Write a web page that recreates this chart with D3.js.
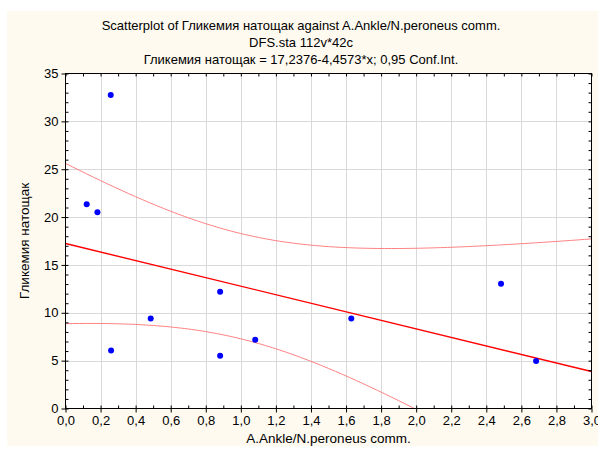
<!DOCTYPE html>
<html>
<head>
<meta charset="utf-8">
<script src="https://cdn.jsdelivr.net/npm/d3@7"></script>
<style>
  body { margin: 0; background: #fff; }
  text { font-family: "Liberation Sans", Arial, sans-serif; fill: #000; }
</style>
</head>
<body>
<svg width="598" height="450"></svg>
<script>
var svg = d3.select("svg"),
    width = +svg.attr("width"),
    height = +svg.attr("height");

// data
var ankle = [0.121, 0.182, 0.258, 0.26, 0.486, 0.882, 0.882, 1.082, 1.63, 2.484, 2.684];
var glucose = [21.35, 20.51, 32.76, 6.07, 9.41, 12.19, 5.51, 7.18, 9.41, 13.03, 4.96];
var intercept = 17.2376, slope = -4.4573, tCrit = 2.262;
var xTicks = [0, 0.2, 0.4, 0.6, 0.8, 1.0, 1.2, 1.4, 1.6, 1.8, 2.0, 2.2, 2.4, 2.6, 2.8, 3.0];
var yTicks = [0, 5, 10, 15, 20, 25, 30, 35];
var titleLines = [
  "Scatterplot of Гликемия натощак against A.Ankle/N.peroneus comm.",
  "DFS.sta 112v*42c",
  "Гликемия натощак = 17,2376-4,4573*x; 0,95 Conf.Int."
];

var margin = {left: 65.5, right: 598 - 591.5, top: 73.5, bottom: 450 - 408.5};
var x = d3.scaleLinear().domain([0, 3]).range([margin.left, width - margin.right]);
var y = d3.scaleLinear().domain([0, 35]).range([height - margin.bottom, margin.top]);
var comma = function(d) { return d3.format(".1f")(d).replace(".", ","); };

// background panel
svg.append("rect").attr("x", 7).attr("y", 11).attr("width", width - 7).attr("height", 435)
    .attr("fill", "#fefaf0");
svg.append("rect").attr("x", x(0)).attr("y", y(35))
    .attr("width", x(3) - x(0)).attr("height", y(0) - y(35)).attr("fill", "#fff");

// grid
svg.append("g").selectAll("line").data(xTicks.slice(1, -1)).enter().append("line")
    .attr("x1", function(d) { return Math.round(x(d)) + 0.5; })
    .attr("x2", function(d) { return Math.round(x(d)) + 0.5; })
    .attr("y1", y(0)).attr("y2", y(35))
    .attr("stroke", "#d9d9d9");
svg.append("g").selectAll("line").data(yTicks.slice(1, -1)).enter().append("line")
    .attr("y1", function(d) { return Math.round(y(d)) + 0.5; })
    .attr("y2", function(d) { return Math.round(y(d)) + 0.5; })
    .attr("x1", x(0)).attr("x2", x(3))
    .attr("stroke", "#d9d9d9");

// regression line and 95% band, computed from the points
var n = ankle.length,
    mx = d3.mean(ankle),
    sxx = d3.sum(ankle, function(v) { return (v - mx) * (v - mx); }),
    sse = d3.sum(ankle, function(v, i) { var r = glucose[i] - (intercept + slope * v); return r * r; }),
    s = Math.sqrt(sse / (n - 2));
var grid = d3.range(0, 3.0001, 0.02);
function half(v) { return tCrit * s * Math.sqrt(1 / n + (v - mx) * (v - mx) / sxx); }

var clip = svg.append("clipPath").attr("id", "plot").append("rect")
    .attr("x", x(0)).attr("y", y(35)).attr("width", x(3) - x(0)).attr("height", y(0) - y(35));
var plot = svg.append("g").attr("clip-path", "url(#plot)");

var upper = d3.line().x(function(v) { return x(v); }).y(function(v) { return y(intercept + slope * v + half(v)); });
var lower = d3.line().x(function(v) { return x(v); }).y(function(v) { return y(intercept + slope * v - half(v)); });
var fit = d3.line().x(function(v) { return x(v); }).y(function(v) { return y(intercept + slope * v); });

plot.append("path").datum(grid).attr("d", upper).attr("fill", "none").attr("stroke", "#ff8080").attr("stroke-width", 1);
plot.append("path").datum(grid.filter(function(v) { return intercept + slope * v - half(v) >= -0.5; }))
    .attr("d", lower).attr("fill", "none").attr("stroke", "#ff8080").attr("stroke-width", 1);
plot.append("path").datum([0, 3]).attr("d", fit).attr("fill", "none").attr("stroke", "#ff0000").attr("stroke-width", 1.4);

svg.append("g").selectAll("circle").data(ankle).enter().append("circle")
    .attr("cx", function(d) { return x(d); })
    .attr("cy", function(d, i) { return y(glucose[i]); })
    .attr("r", 3)
    .attr("fill", "#0000ff");

// axes: majors outward on left/bottom, minors inward, mirrored on top/right
var xMinor = d3.range(0, 3.0001, 0.1), yMinor = d3.range(0, 35.0001, 1);
svg.append("g").attr("transform", "translate(0," + y(0) + ")")
    .call(d3.axisBottom(x).tickValues(xTicks).tickFormat(comma).tickSize(4).tickPadding(3))
    .call(function(g) { g.select(".domain").remove(); });
svg.append("g").attr("transform", "translate(0," + y(0) + ")")
    .call(d3.axisTop(x).tickValues(xMinor).tickFormat("").tickSize(3))
    .call(function(g) { g.select(".domain").remove(); });
svg.append("g").attr("transform", "translate(0," + y(35) + ")")
    .call(d3.axisBottom(x).tickValues(xMinor).tickFormat("").tickSize(3))
    .call(function(g) { g.select(".domain").remove(); });
svg.append("g").attr("transform", "translate(" + x(0) + ",0)")
    .call(d3.axisLeft(y).tickValues(yTicks).tickSize(4).tickPadding(3))
    .call(function(g) { g.select(".domain").remove(); });
svg.append("g").attr("transform", "translate(" + x(0) + ",0)")
    .call(d3.axisRight(y).tickValues(yMinor).tickFormat("").tickSize(3))
    .call(function(g) { g.select(".domain").remove(); });
svg.append("g").attr("transform", "translate(" + x(3) + ",0)")
    .call(d3.axisLeft(y).tickValues(yMinor).tickFormat("").tickSize(3))
    .call(function(g) { g.select(".domain").remove(); });
svg.selectAll(".tick text").attr("font-size", 13).attr("font-family", "Liberation Sans, Arial, sans-serif");

svg.append("rect").attr("x", x(0)).attr("y", y(35))
    .attr("width", x(3) - x(0)).attr("height", y(0) - y(35))
    .attr("fill", "none").attr("stroke", "#000");

// titles
svg.append("g").selectAll("text").data(titleLines).enter().append("text")
    .attr("x", 301).attr("y", function(d, i) { return 30 + i * 17; })
    .attr("text-anchor", "middle").attr("font-size", 13)
    .text(function(d) { return d; });
svg.append("text").attr("x", (x(0) + x(3)) / 2).attr("y", 442.5)
    .attr("text-anchor", "middle").attr("font-size", 13.5)
    .text("A.Ankle/N.peroneus comm.");
svg.append("text").attr("transform", "translate(29," + (y(0) + y(35)) / 2 + ") rotate(-90)")
    .attr("text-anchor", "middle").attr("font-size", 13.5)
    .text("Гликемия натощак");
</script>
</body>
</html>
